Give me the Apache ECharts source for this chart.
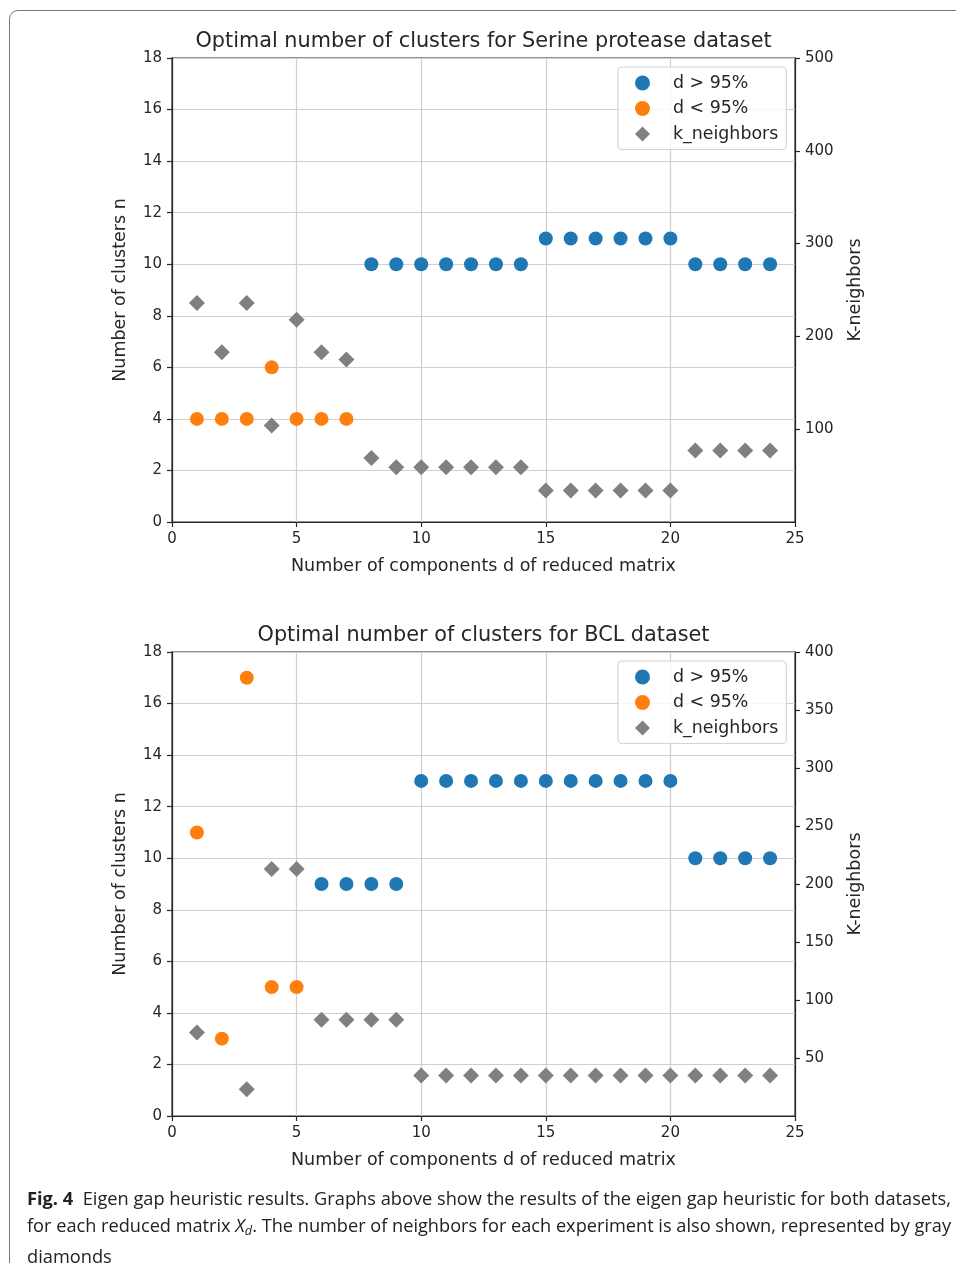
<!DOCTYPE html>
<html>
<head>
<meta charset="utf-8">
<script src="https://cdn.jsdelivr.net/npm/echarts@6/dist/echarts.min.js"></script>
<style>
  html, body { margin:0; padding:0; background:#fff; }
  #wrap { position:relative; width:956px; height:1263px; overflow:hidden; background:#fff; }
  #frame { position:absolute; left:9px; top:10px; width:1000px; height:1300px; border:1.5px solid #777; border-radius:9px; box-sizing:border-box; }
  #chart { position:absolute; left:0; top:0; width:956px; height:1263px; }
  #caption { position:absolute; left:27px; top:1185px; font-family:"Open Sans", "Noto Sans", sans-serif; font-size:18.5px; line-height:26.5px; color:#222; white-space:nowrap; }
  #caption .ln { display:block; transform-origin:0 0; width:max-content; }
</style>
</head>
<body>
<div id="wrap">
  <div id="frame"></div>
  <div id="chart"></div>
  <div id="caption">
    <span class="ln" id="l1"><b>Fig. 4</b>&nbsp; Eigen gap heuristic results. Graphs above show the results of the eigen gap heuristic for both datasets,</span>
    <span class="ln" id="l2">for each reduced matrix <i>X<sub style="font-size:70%;vertical-align:-3px;">d</sub></i>. The number of neighbors for each experiment is also shown, represented by gray</span>
    <span class="ln" id="l3">diamonds</span>
  </div>
</div>
<script>
// ---- data ----
const components = [1,2,3,4,5,6,7,8,9,10,11,12,13,14,15,16,17,18,19,20,21,22,23,24];
const xTicks = [0,5,10,15,20,25];
const seriesNames = ['d > 95%', 'd < 95%', 'k_neighbors'];

const titleSerine = 'Optimal number of clusters for Serine protease dataset';
const titleBCL = 'Optimal number of clusters for BCL dataset';

// Serine protease dataset
const serineHigh = [null,null,null,null,null,null,null,10,10,10,10,10,10,10,11,11,11,11,11,11,10,10,10,10];
const serineLow  = [4,4,4,6,4,4,4,null,null,null,null,null,null,null,null,null,null,null,null,null,null,null,null,null];
const serineK    = [236,183,236,104,218,183,175,69,59,59,59,59,59,59,34,34,34,34,34,34,77,77,77,77];
const serineKTicks = [100,200,300,400,500];

// BCL dataset
const bclHigh = [null,null,null,null,null,9,9,9,9,13,13,13,13,13,13,13,13,13,13,13,10,10,10,10];
const bclLow  = [11,3,17,5,5,null,null,null,null,null,null,null,null,null,null,null,null,null,null,null,null,null,null,null];
const bclK    = [72,null,23,213,213,83,83,83,83,35,35,35,35,35,35,35,35,35,35,35,35,35,35,35];
const bclKTicks = [50,100,150,200,250,300,350,400];

const nTicks = [0,2,4,6,8,10,12,14,16,18];

// ---- helpers ----
function pairs(vals) {
  const out = [];
  vals.forEach((v, i) => { if (v !== null) out.push([components[i], v]); });
  return out;
}

const FONT = "'DejaVu Sans', DejaVuSans, sans-serif";
const TXT = '#262626';
const AX = '#262626';
const GRIDC = '#cfcfcf';
const BLUE = '#1f77b4', ORANGE = '#ff7f0e', GRAY = '#808080';

const plots = [
  { top: 58, title: titleSerine, high: serineHigh, low: serineLow, k: serineK, kMax: 500, kInt: 100, kTicks: serineKTicks },
  { top: 652, title: titleBCL, high: bclHigh, low: bclLow, k: bclK, kMax: 400, kInt: 50, kTicks: bclKTicks }
];

const option = {
  animation: false,
  textStyle: { fontFamily: FONT },
  title: [], grid: [], xAxis: [], yAxis: [], legend: [], series: []
};

plots.forEach((p, gi) => {
  option.title.push({
    text: p.title, left: 478.5, top: p.top - 32, textAlign: 'center',
    textStyle: { fontFamily: FONT, fontSize: 20.8, fontWeight: 'normal', color: TXT }
  });
  option.grid.push({
    left: 172, top: p.top, width: 623, height: 464,
    show: true, borderColor: AX, borderWidth: 1.2, backgroundColor: 'transparent'
  });
  option.xAxis.push({
    type: 'value', gridIndex: gi, min: 0, max: 25, interval: 5,
    name: 'Number of components d of reduced matrix', nameLocation: 'middle', nameGap: 35,
    nameTextStyle: { fontFamily: FONT, fontSize: 17.5, color: TXT },
    axisLine: { show: true, onZero: false, lineStyle: { color: AX, width: 1.2 } },
    axisTick: { show: true, length: 5, lineStyle: { color: AX, width: 1.2 } },
    axisLabel: { fontFamily: FONT, fontSize: 15, color: TXT, margin: 10 },
    splitLine: { show: true, lineStyle: { color: GRIDC, width: 1.2 } }
  });
  option.yAxis.push({
    type: 'value', gridIndex: gi, position: 'left', min: 0, max: 18, interval: 2,
    name: 'Number of clusters n', nameLocation: 'middle', nameGap: 43, nameRotate: 90,
    nameTextStyle: { fontFamily: FONT, fontSize: 17.5, color: TXT },
    axisLine: { show: true, onZero: false, lineStyle: { color: AX, width: 1.2 } },
    axisTick: { show: true, length: 5, lineStyle: { color: AX, width: 1.2 } },
    axisLabel: { fontFamily: FONT, fontSize: 15, color: TXT, margin: 10 },
    splitLine: { show: true, lineStyle: { color: GRIDC, width: 1.2 } }
  });
  option.yAxis.push({
    type: 'value', gridIndex: gi, position: 'right', min: 0, max: p.kMax, interval: p.kInt,
    name: 'K-neighbors', nameLocation: 'middle', nameGap: 51, nameRotate: 90,
    nameTextStyle: { fontFamily: FONT, fontSize: 17.5, color: TXT },
    axisLine: { show: true, onZero: false, lineStyle: { color: AX, width: 1.2 } },
    axisTick: { show: true, length: 5, customValues: p.kTicks, lineStyle: { color: AX, width: 1.2 } },
    axisLabel: { fontFamily: FONT, fontSize: 15, color: TXT, margin: 10, customValues: p.kTicks,
                 formatter: v => (v === 0 ? '' : String(v)) },
    splitLine: { show: false }
  });
  option.legend.push({
    orient: 'vertical', left: 618, top: p.top + 9, selectedMode: false,
    data: [{ name: seriesNames[0], icon: 'circle' }, { name: seriesNames[1], icon: 'circle' }, { name: seriesNames[2], icon: 'diamond' }],
    itemWidth: 15, itemHeight: 15, itemGap: 8.5,
    padding: [7.5, 8, 7, 17],
    backgroundColor: 'rgba(255,255,255,0.8)', borderColor: '#d4d4d4', borderWidth: 1.2, borderRadius: 4,
    textStyle: { fontFamily: FONT, fontSize: 17.4, color: TXT, padding: [0, 0, 0, 18] }
  });
  option.series.push({
    type: 'scatter', name: seriesNames[0], xAxisIndex: gi, yAxisIndex: gi * 2,
    symbol: 'circle', symbolSize: 14, itemStyle: { color: BLUE, opacity: 1 },
    data: pairs(p.high), z: 2
  });
  option.series.push({
    type: 'scatter', name: seriesNames[1], xAxisIndex: gi, yAxisIndex: gi * 2,
    symbol: 'circle', symbolSize: 14, itemStyle: { color: ORANGE, opacity: 1 },
    data: pairs(p.low), z: 2
  });
  option.series.push({
    type: 'scatter', name: seriesNames[2], xAxisIndex: gi, yAxisIndex: gi * 2 + 1,
    symbol: 'diamond', symbolSize: 16, itemStyle: { color: GRAY, opacity: 1 },
    data: pairs(p.k), z: 3
  });
});

const chart = echarts.init(document.getElementById('chart'), null, { renderer: 'canvas' });
chart.setOption(option);

// fit caption lines to the justified width
(function () {
  const target = 924;
  const l1 = document.getElementById('l1'), l2 = document.getElementById('l2'), l3 = document.getElementById('l3');
  const s1 = target / l1.getBoundingClientRect().width;
  const s2 = target / l2.getBoundingClientRect().width;
  l1.style.transform = 'scaleX(' + s1 + ')';
  l2.style.transform = 'scaleX(' + s2 + ')';
  l3.style.transform = 'scaleX(' + s1 + ')';
})();
</script>
</body>
</html>
